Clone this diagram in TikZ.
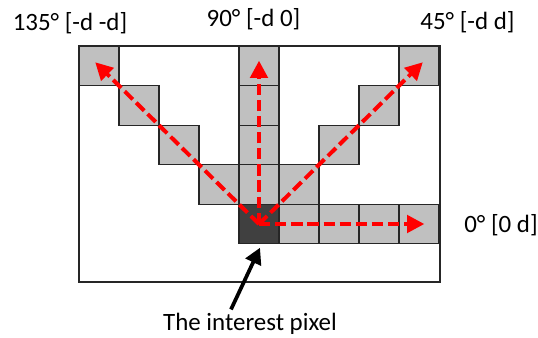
\documentclass[tikz,border=0pt]{standalone}
\usepackage{fontspec}
\setmainfont{Carlito}
\usetikzlibrary{arrows.meta}
\definecolor{cellgray}{HTML}{C0C0C0}
\definecolor{pixdark}{HTML}{404040}
\tikzset{
  cell/.style={draw=black!85, line width=0.8pt, fill=cellgray, inner sep=0pt, outer sep=0pt, minimum width=30pt, minimum height=29.6pt},
  dirarrow/.style={->, red, line width=3pt, dash pattern=on 8.5pt off 3.6pt, shorten >=-4pt},
  pointer/.style={->, line width=2.8pt},
  lbl/.style={font=\fontsize{18.7}{22}\selectfont, inner sep=0pt, anchor=base}
}
\begin{document}
\begin{tikzpicture}[x=0.75pt, y=-0.75pt, >={Triangle[length=13pt,width=13pt]}]
\useasboundingbox (0,0) rectangle (538,338);
\node[draw=black!85, line width=0.8pt, fill=white, inner sep=0pt, minimum width=270.75pt, minimum height=177pt] (frame) at (259.5,164) {};
% diagonal 135
\foreach \i in {0,...,3}
  \node[cell] (d\i) at (99+40*\i, 66+39.5*\i) {};
% vertical 90
\foreach \i in {0,...,3}
  \node[cell] (v\i) at (259, 66+39.5*\i) {};
% diagonal 45
\foreach \i in {0,...,3}
  \node[cell] (e\i) at (419-40*\i, 66+39.5*\i) {};
% horizontal 0
\foreach \i in {1,...,4}
  \node[cell] (h\i) at (259+40*\i, 224) {};
\node[cell, fill=pixdark] (pix) at (259,224) {};
\draw[dirarrow] (pix.center) -- (d0.center);
\draw[dirarrow] (pix.center) -- (v0.center);
\draw[dirarrow] (pix.center) -- (e0.center);
\draw[dirarrow] (pix.center) -- (h4.center);
\node[lbl] (l135) at (70,31) {135° [-d -d]};
\node[lbl] (l90) at (253.5,27) {90° [-d 0]};
\node[lbl] (l45) at (467.5,30) {45° [-d d]};
\node[lbl] (l0) at (501,232) {0° [0 d]};
\node[lbl] (txt) at (250,330) {The interest pixel};
\draw[pointer, >={Triangle[length=12pt,width=12.5pt]}] ([shift={(-19,-3)}]txt.north) -- ([shift={(1,4)}]pix.south);
\end{tikzpicture}
\end{document}
